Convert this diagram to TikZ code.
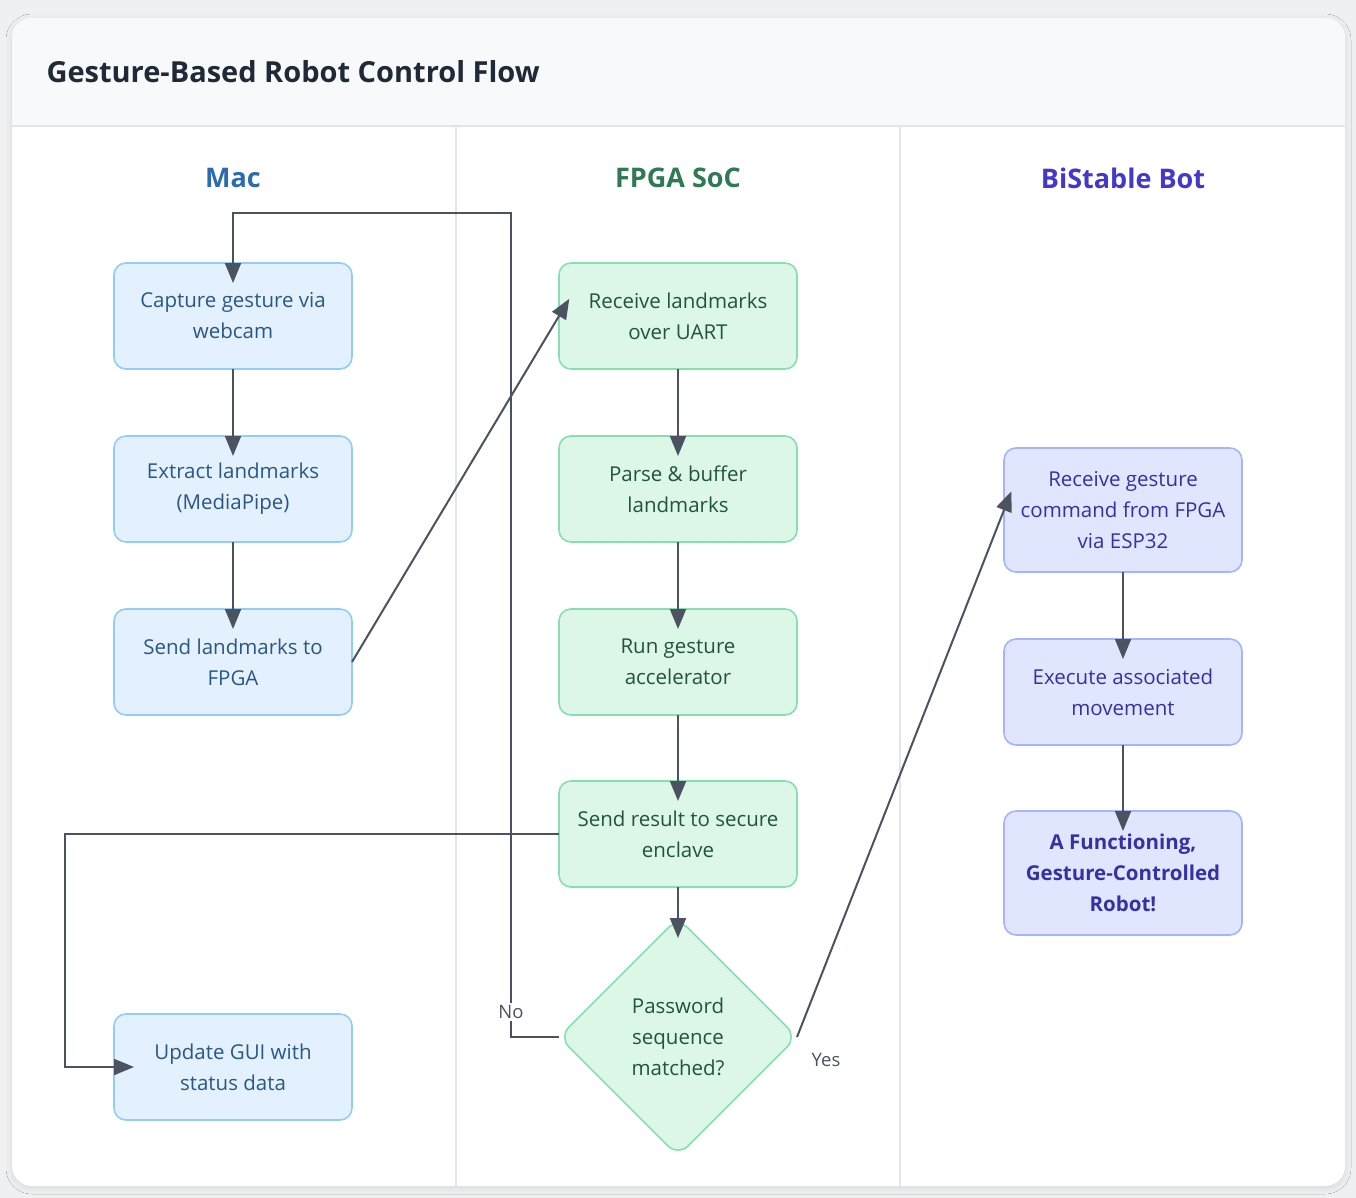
\documentclass[tikz,border=0pt]{standalone}
\usepackage{fontspec}
\setmainfont{Open Sans}
\usetikzlibrary{positioning,shapes.geometric,arrows.meta,calc,shadows.blur}
\definecolor{pagebg}{HTML}{EEF0F2}
\definecolor{headbg}{HTML}{F8F9FB}
\definecolor{rulegray}{HTML}{E3E5E9}
\definecolor{titletxt}{HTML}{1F2937}
\definecolor{wire}{HTML}{4B5260}
\definecolor{macfill}{HTML}{E3F0FD}
\definecolor{macline}{HTML}{93CDF5}
\definecolor{mactxt}{HTML}{2A5783}
\definecolor{machead}{HTML}{2B6CB0}
\definecolor{fpgafill}{HTML}{DCF7E7}
\definecolor{fpgaline}{HTML}{86DFB0}
\definecolor{fpgatxt}{HTML}{22543D}
\definecolor{fpgahead}{HTML}{2F7A55}
\definecolor{botfill}{HTML}{E0E6FD}
\definecolor{botline}{HTML}{A5B4FC}
\definecolor{bottxt}{HTML}{3730A3}
\definecolor{bothead}{HTML}{4338CA}
\newcommand{\lanerule}[1]{\draw[rulegray, line width=1.2pt] (#1,126) -- (#1,1186);}
\tikzset{
	box/.style={rectangle, rounded corners=12pt, line width=1.6pt, minimum width=238pt, minimum height=106pt, align=center, inner sep=0pt, outer sep=0pt, font=\fontsize{20.5}{31}\selectfont},
	macbox/.style={box, fill=macfill, draw=macline, text=mactxt},
	fpgabox/.style={box, fill=fpgafill, draw=fpgaline, text=fpgatxt},
	botbox/.style={box, fill=botfill, draw=botline, text=bottxt},
	decide/.style={diamond, aspect=1, rounded corners=14pt, line width=1.6pt, minimum width=238pt, minimum height=238pt, inner sep=0pt, outer sep=0pt, align=center, font=\fontsize{20.5}{31}\selectfont, fill=fpgafill, draw=fpgaline, text=fpgatxt},
	lanehead/.style={font=\fontsize{27}{30}\bfseries\selectfont},
	flow/.style={draw=wire, line width=2pt, -{Triangle[length=20pt,width=16pt]}, shorten >=-20pt},
	edgelabel/.style={text=wire, font=\fontsize{18.5}{20}\selectfont, inner sep=2pt}
}
\begin{document}
\begin{tikzpicture}[x=1pt,y=-1pt]
	\useasboundingbox (0,0) rectangle (1356,1198);
	\fill[pagebg] (0,0) rectangle (1356,1198);
	\fill[white, rounded corners=20pt, blur shadow={shadow opacity=10, shadow xshift=0pt, shadow yshift=-2pt, shadow blur radius=6pt}] (12,18) rectangle (1345,1186);
	\fill[headbg] (12,126) {[rounded corners=20pt] -- (12,18) -- (1345,18)} -- (1345,126) -- cycle;
	\draw[rulegray, line width=1.2pt] (12,126) -- (1345,126);
	\lanerule{456}
	\lanerule{900}

	\node[anchor=west, text=titletxt, font=\fontsize{29}{34}\bfseries\selectfont] (title) at (43,72) {Gesture-Based Robot Control Flow};

	\begin{scope}[xshift=233pt]
		\node[lanehead, text=machead] (machd) at (0,178) {Mac};
		\node[macbox] (capture) at (0,316) {Capture gesture via\\webcam};
		\node[macbox, below=67pt of capture] (extract) {Extract landmarks\\(MediaPipe)};
		\node[macbox, below=67pt of extract] (sendlm) {Send landmarks to\\FPGA};
		\node[macbox] (gui) at (0,1067) {Update GUI with\\status data};
	\end{scope}

	\begin{scope}[xshift=678pt]
		\node[lanehead, text=fpgahead] (fpgahd) at (0,178) {FPGA SoC};
		\node[fpgabox] (recv) at (0,316) {Receive landmarks\\over UART};
		\node[fpgabox, below=67pt of recv] (parse) {Parse \& buffer\\landmarks};
		\node[fpgabox, below=67pt of parse] (accel) {Run gesture\\accelerator};
		\node[fpgabox, below=66pt of accel] (result) {Send result to secure\\enclave};
		\node[decide] (match) at (0,1037) {Password\\sequence\\matched?};
	\end{scope}

	\begin{scope}[xshift=1123pt]
		\node[lanehead, text=bothead] (bothd) at (0,178) {BiStable Bot};
		\node[botbox, minimum height=124pt] (command) at (0,510) {Receive gesture\\command from FPGA\\via ESP32};
		\node[botbox, below=67pt of command] (move) {Execute associated\\movement};
		\node[botbox, minimum height=124pt, below=66pt of move, font=\fontsize{20.5}{31}\bfseries\selectfont] (robot) {A Functioning,\\Gesture-Controlled\\Robot!};
	\end{scope}

	\coordinate (noturn) at (511,213);
	\coordinate (guiturn) at (65,1067);

	\draw[flow] (capture) -- (extract);
	\draw[flow] (extract) -- (sendlm);
	\draw[flow] (sendlm.east) -- (recv.west);
	\draw[flow] (recv) -- (parse);
	\draw[flow] (parse) -- (accel);
	\draw[flow] (accel) -- (result);
	\draw[flow] (result) -- (match);
	\draw[flow] (result.west) -| (guiturn) -- (gui.west);
	\draw[flow] (match.west) -| (noturn) -| (capture.north);
	\draw[flow] (match.east) -- (command.west);
	\draw[flow] (command) -- (move);
	\draw[flow] (move) -- (robot);

	\node[edgelabel, fill=white] (nolbl) at (511,1012) {No};
	\node[edgelabel] (yeslbl) at (826,1060) {Yes};
\end{tikzpicture}
\end{document}
